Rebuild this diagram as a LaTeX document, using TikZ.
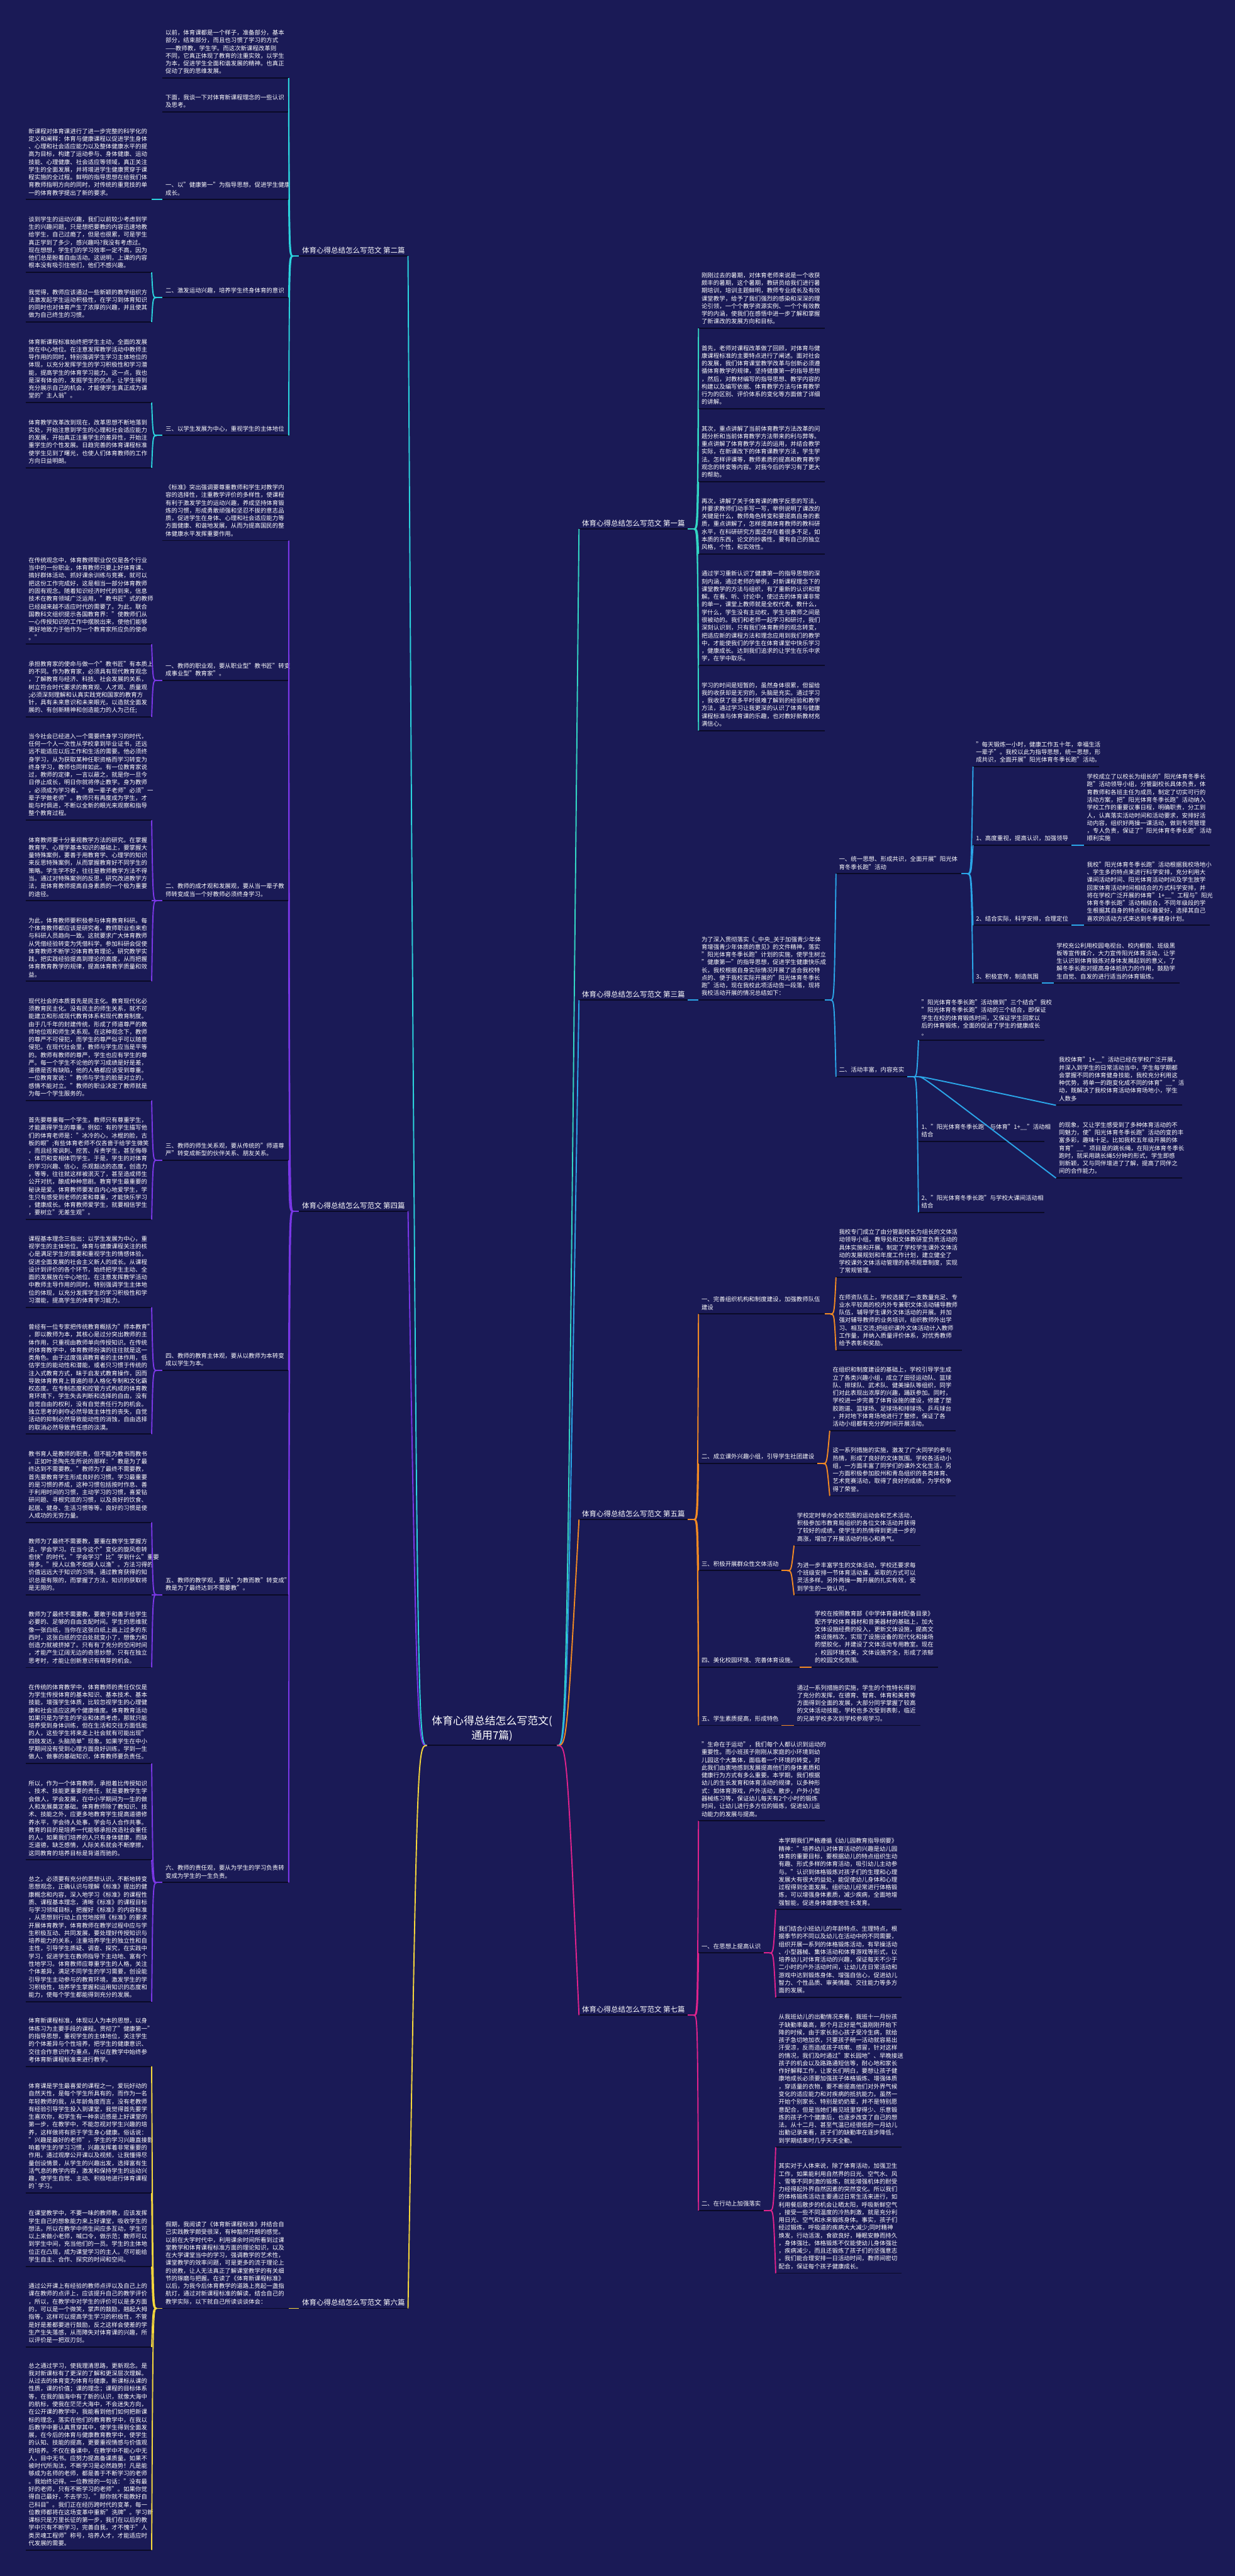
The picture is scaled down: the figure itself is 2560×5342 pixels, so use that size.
\documentclass[tikz,border=0pt]{standalone}
\usepackage{fontspec}
\setmainfont{Noto Sans CJK SC}
\usetikzlibrary{calc}
\definecolor{bg}{HTML}{1A1A56}
\definecolor{ul}{HTML}{0A0A26}
\definecolor{cA}{HTML}{33D6C4}
\definecolor{cB}{HTML}{2BD3DD}
\definecolor{cC}{HTML}{2BA6E8}
\definecolor{cD}{HTML}{7A37E6}
\definecolor{cE}{HTML}{F28A23}
\definecolor{cF}{HTML}{F4D63C}
\definecolor{cG}{HTML}{E0238C}
\tikzset{
 uline/.style={draw=ul,line width=2.5pt},
 blk/.style={anchor=south west,text width=#1,align=left,inner xsep=6pt,inner ysep=4.5pt,text=white,
   font=\fontsize{12.3pt}{16pt}\selectfont,execute at end node=\strut,
   append after command={(\tikzlastnode.south west) edge[uline] (\tikzlastnode.south east)}},
 blk/.default=249pt,
 hd/.style={anchor=south west,inner xsep=6pt,inner ysep=4.5pt,text=white,
   font=\fontsize{12.3pt}{16pt}\selectfont,execute at end node=\strut,
   append after command={(\tikzlastnode.south west) edge[uline] (\tikzlastnode.south east)}},
 lab/.style={inner xsep=6pt,inner ysep=5pt,text=white,font=\fontsize{15pt}{20pt}\selectfont,
   append after command={(\tikzlastnode.south west) edge[uline] (\tikzlastnode.south east)}},
 lk/.style={line width=2.5pt}
}
\newcommand\Rfan[3]{%
 \coordinate (#2b) at ($(#2.south east)+(12,0)$);
 \draw[lk,#1] (#2.south east) -- (#2b);
 \foreach \kid in {#3}{\draw[lk,#1] (#2b) .. controls +(8,0) .. (\kid.south west);}}
\newcommand\Lfan[3]{%
 \coordinate (#2b) at ($(#2.south west)+(-12,0)$);
 \draw[lk,#1] (#2.south west) -- (#2b);
 \foreach \kid in {#3}{\draw[lk,#1] (#2b) .. controls +(-8,0) .. (\kid.south east);}}
\begin{document}
\begin{tikzpicture}[x=1pt,y=-1pt]
\fill[bg] (0,0) rectangle (2560,5342);
\useasboundingbox (0,0) rectangle (2560,5342);

% ---------------- center ----------------
\node[font=\fontsize{22pt}{30pt}\selectfont,text=white,align=center,inner xsep=10pt,inner ysep=8pt,
  append after command={(\tikzlastnode.south west) edge[uline] (\tikzlastnode.south east)}] (ctr) at (1020,3585) {体育心得总结怎么写范文(\\通用7篇)};

% ---------------- level 1 labels ----------------
\node[lab,anchor=south west] (L2) at (620,531) {体育心得总结怎么写范文 第二篇};
\node[lab,anchor=south west] (L4) at (620,2512) {体育心得总结怎么写范文 第四篇};
\node[lab,anchor=south west] (L6) at (620,4787) {体育心得总结怎么写范文 第六篇};
\node[lab,anchor=south east] (L1) at (1426,1097) {体育心得总结怎么写范文 第一篇};
\node[lab,anchor=south east] (L3) at (1426,2074) {体育心得总结怎么写范文 第三篇};
\node[lab,anchor=south east] (L5) at (1426,3151) {体育心得总结怎么写范文 第五篇};
\node[lab,anchor=south east] (L7) at (1426,4179) {体育心得总结怎么写范文 第七篇};

\draw[lk,cB] (ctr.south west) .. controls +(-20,0) .. (L2.south east);
\draw[lk,cD] (ctr.south west) .. controls +(-20,0) .. (L4.south east);
\draw[lk,cF] (ctr.south west) .. controls +(-20,0) .. (L6.south east);
\draw[lk,cA] (ctr.south east) .. controls +(20,0) .. (L1.south west);
\draw[lk,cC] (ctr.south east) .. controls +(20,0) .. (L3.south west);
\draw[lk,cE] (ctr.south east) .. controls +(20,0) .. (L5.south west);
\draw[lk,cG] (ctr.south east) .. controls +(20,0) .. (L7.south west);

% ================= 第二篇 =================
\node[blk] (r2a) at (337,162) {以前，体育课都是一个样子，准备部分，基本\\部分，结束部分，而且也习惯了学习的方式\\——教师教，学生学。而这次新课程改革则\\不同，它真正体现了教育的注重实效，以学生\\为本，促进学生全面和谐发展的精神。也真正\\促动了我的思维发展。};
\node[blk] (r2b) at (337,232) {下面，我谈一下对体育新课程理念的一些认识\\及思考。};
\node[blk] (n21) at (337,414) {一、以"健康第一"为指导思想，促进学生健康\\成长。};
\node[blk] (n22) at (337,617) {二、激发运动兴趣，培养学生终身体育的意识};
\node[blk] (n23) at (337,903) {三、以学生发展为中心，重视学生的主体地位};
\node[blk] (l21) at (53,414) {新课程对体育课进行了进一步完整的科学化的\\定义和阐释：体育与健康课程以促进学生身体\\、心理和社会适应能力以及整体健康水平的提\\高为目标，构建了运动参与、身体健康、运动\\技能、心理健康、社会适应等领域，真正关注\\学生的全面发展，并将增进学生健康贯穿于课\\程实施的全过程。鲜明的指导思想在给我们体\\育教师指明方向的同时，对传统的重竞技的单\\一的体育教学提出了新的要求。};
\node[blk] (l22a) at (53,565) {谈到学生的运动兴趣，我们以前较少考虑到学\\生的兴趣问题，只是想把要教的内容迅速地教\\给学生，自己过瘾了，但是也很累，可是学生\\真正学到了多少，感兴趣吗?我没有考虑过。\\现在想想，学生们的学习效率一定不高，因为\\他们总是盼着自由活动。这说明，上课的内容\\根本没有吸引住他们，他们不感兴趣。};
\node[blk] (l22b) at (53,668) {我觉得，教师应该通过一些新颖的教学组织方\\法激发起学生运动积极性，在学习到体育知识\\的同时也对体育产生了浓厚的兴趣，并且使其\\做为自己终生的习惯。};
\node[blk] (l23a) at (53,835) {体育新课程标准始终把学生主动，全面的发展\\放在中心地位。在注意发挥教学活动中教师主\\导作用的同时，特别强调学生学习主体地位的\\体现，以充分发挥学生的学习积极性和学习潜\\能，提高学生的体育学习能力。这一点，我也\\是深有体会的，发掘学生的优点，让学生得到\\充分展示自己的机会，才能使学生真正成为课\\堂的"主人翁"。};
\node[blk] (l23b) at (53,970) {体育教学改革改到现在，改革思想不断地落到\\实处，开始注意到学生的心理和社会适应能力\\的发展，开始真正注重学生的差异性，开始注\\重学生的个性发展。日趋完善的体育课程标准\\使学生见到了曙光，也使人们体育教师的工作\\方向日益明朗。};
\Lfan{cB}{L2}{r2a,r2b,n21,n22,n23}
\Lfan{cB}{n21}{l21}
\Lfan{cB}{n22}{l22a,l22b}
\Lfan{cB}{n23}{l23a,l23b}

% ================= 第四篇 =================
\node[blk] (r4a) at (337,1121) {《标准》突出强调要尊重教师和学生对教学内\\容的选择性，注重教学评价的多样性，使课程\\有利于激发学生的运动兴趣，养成坚持体育锻\\炼的习惯，形成勇敢顽强和坚忍不拔的意志品\\质，促进学生在身体、心理和社会适应能力等\\方面健康、和谐地发展，从而为提高国民的整\\体健康水平发挥重要作用。};
\node[blk] (n41) at (337,1411) {一、教师的职业观，要从职业型"教书匠"转变\\成事业型"教育家"。};
\node[blk] (n42) at (337,1868) {二、教师的成才观和发展观，要从当一辈子教\\师转变成当一个好教师必须终身学习。};
\node[blk] (n43) at (337,2406) {三、教师的师生关系观，要从传统的"师道尊\\严"转变成新型的伙伴关系、朋友关系。};
\node[blk] (n44) at (337,2842) {四、教师的教育主体观，要从以教师为本转变\\成以学生为本。};
\node[blk] (n45) at (337,3307) {五、教师的教学观，要从"为教而教"转变成"\\教是为了最终达到不需要教"。};
\node[blk] (n46) at (337,3904) {六、教师的责任观，要从为学生的学习负责转\\变成为学生的一生负责。};
\node[blk] (l41a) at (53,1336) {在传统观念中，体育教师职业仅仅是各个行业\\当中的一份职业，体育教师只要上好体育课、\\搞好群体活动、抓好课余训练与竞赛，就可以\\把这份工作完成好，这是相当一部分体育教师\\的固有观念。随着知识经济时代的到来，信息\\技术在教育领域广泛运用，"教书匠"式的教师\\已经越来越不适应时代的需要了。为此，联合\\国教科文组织提示各国教育界："使教师们从\\一心传授知识的工作中摆脱出来，使他们能够\\更好地致力于他作为一个教育家所应负的使命\\。"};
\node[blk] (l41b) at (53,1487) {承担教育家的使命与做一个"教书匠"有本质上\\的不同。作为教育家，必须具有现代教育观念\\，了解教育与经济、科技、社会发展的关系，\\树立符合时代要求的教育观、人才观、质量观\\;必须深刻理解和认真实践党和国家的教育方\\针，具有未来意识和未来眼光，以造就全面发\\展的、有创新精神和创造能力的人为己任;};
\node[blk] (l42a) at (53,1701) {当今社会已经进入一个需要终身学习的时代，\\任何一个人一次性从学校拿到毕业证书，还远\\远不能适应以后工作和生活的需要。他必须终\\身学习，从为获取某种任职资格而学习转变为\\终身学习，教师也同样如此。有一位教育家说\\过，教师的定律，一言以蔽之，就是你一旦今\\日停止成长，明日你就将停止教学。身为教师\\，必须成为学习者。"做一辈子老师"必须"一\\辈子学做老师"。教师只有再度成为学生，才\\能与时俱进，不断以全新的眼光来观察和指导\\整个教育过程。};
\node[blk] (l42b) at (53,1868) {体育教师要十分重视教学方法的研究。在掌握\\教育学、心理学基本知识的基础上，要掌握大\\量特殊案例，要善于用教育学、心理学的知识\\来反思特殊案例，从而掌握教育好不同学生的\\策略。学生学不好，往往是教师教学方法不得\\当。通过对特殊案例的反思，研究改进教学方\\法，是体育教师提高自身素质的一个极为重要\\的途径。};
\node[blk] (l42c) at (53,2035) {为此，体育教师要积极参与体育教育科研。每\\个体育教师都应该是研究者。教师职业愈来愈\\与科研人员趋向一致。这就要求广大体育教师\\从凭借经验转变为凭借科学。参加科研会促使\\体育教师不断学习体育教育理论，研究教学实\\践，把实践经验提高到理论的高度，从而把握\\体育教育教学的规律，提高体育教学质量和效\\益。};
\node[blk] (l43a) at (53,2282) {现代社会的本质首先是民主化。教育现代化必\\须教育民主化。没有民主的师生关系，就不可\\能建立和形成现代教育体系和现代教育制度。\\由于几千年的封建传统，形成了师道尊严的教\\师地位观和师生关系观。在这种观念下，教师\\的尊严不可侵犯，而学生的尊严似乎可以随意\\侵犯。在现代社会里，教师与学生应当是平等\\的。教师有教师的尊严，学生也应有学生的尊\\严。每一个学生不论他的学习成绩是好是差，\\道德是否有缺陷，他的人格都应该受到尊重。\\一位教育家说："教师与学生的脸是对立的，\\感情不能对立。"教师的职业决定了教师就是\\为每一个学生服务的。};
\node[blk] (l43b) at (53,2529) {首先要尊重每一个学生，教师只有尊重学生，\\才能赢得学生的尊重。例如：有的学生描写他\\们的体育老师是："冰冷的心，冰棍的脸，古\\板的眼";有些体育老师不仅吝啬于给学生微笑\\，而且经常讽刺、挖苦、斥责学生，甚至侮辱\\、体罚和变相体罚学生。于是，学生的对体育\\的学习兴趣、信心，乐观豁达的态度，创造力\\，等等，往往就这样被泯灭了，甚至造成师生\\公开对抗，酿成种种悲剧。教育学生最重要的\\秘诀是爱。体育教师要发自内心地爱学生，学\\生只有感受到老师的爱和尊重，才能快乐学习\\，健康成长。体育教师爱学生，就要相信学生\\，要树立"无差生观"。};
\node[blk] (l44a) at (53,2711) {课程基本理念三指出：以学生发展为中心，重\\视学生的主体地位。体育与健康课程关注的核\\心是满足学生的需要和重视学生的情感体验，\\促进全面发展的社会主义新人的成长。从课程\\设计到评价的各个环节，始终把学生主动、全\\面的发展放在中心地位。在注意发挥教学活动\\中教师主导作用的同时，特别强调学生主体地\\位的体现，以充分发挥学生的学习积极性和学\\习潜能，提高学生的体育学习能力。};
\node[blk] (l44b) at (53,2974) {曾经有一位专家把传统教育概括为"师本教育"\\，即以教师为本，其核心是过分突出教师的主\\体作用，只重视由教师单向传授知识。在传统\\的体育教学中，体育教师扮演的往往就是这一\\类角色。由于过度强调教育者的主体作用，低\\估学生的能动性和潜能，或者只习惯于传统的\\注入式教育方式，昧于启发式教育操作，因而\\导致体育教育上普遍的非人格化专制和文化霸\\权态度。在专制态度和控管方式构成的体育教\\育环境下，学生失去判断和选择的自由，没有\\自觉自由的权利，没有自觉责任行为的机会。\\独立思考的剥夺必然导致主体性的丧失，自觉\\活动的抑制必然导致能动性的消蚀，自由选择\\的取消必然导致责任感的淡漠。};
\node[blk] (l45a) at (53,3157) {教书育人是教师的职责，但不能为教书而教书\\。正如叶圣陶先生所说的那样："教是为了最\\终达到不需要教。"教师为了最终不需要教，\\首先要教育学生形成良好的习惯。学习最重要\\的是习惯的养成，这种习惯包括按时作息、善\\于利用时间的习惯，主动学习的习惯，喜爱钻\\研问题、寻根究底的习惯，以及良好的饮食、\\起居、健身、生活习惯等等。良好的习惯是使\\人成功的无穷力量。};
\node[blk] (l45b) at (53,3307) {教师为了最终不需要教，要重在教学生掌握方\\法，学会学习。在当今这个"变化的旋风愈转\\愈快"的时代，"学会学习"比"学到什么"重要\\得多。"授人以鱼不如授人以渔"。方法习得的\\价值远远大于知识的习得。通过教育获得的知\\识总是有限的，而掌握了方法，知识的获取将\\是无限的。};
\node[blk] (l45c) at (53,3458) {教师为了最终不需要教，要敢于和善于给学生\\必要的、足够的自由支配时间。学生的思维就\\像一张白纸，当你在这张白纸上画上过多的东\\西时，这张白纸的空白处就变小了，想像力和\\创造力就被挤掉了。只有有了充分的空闲时间\\，才能产生辽阔无边的奇思妙想，只有在独立\\思考时，才能让创新意识有萌芽的机会。};
\node[blk] (l46a) at (53,3657) {在传统的体育教学中，体育教师的责任仅仅是\\为学生传授体育的基本知识、基本技术、基本\\技能，增强学生体质，比较忽视学生的心理健\\康和社会适应这两个健康维度。体育教育活动\\如果只是为学生的学业和体质考虑，那就只能\\培养受到身体训练，但在生活和交往方面低能\\的人，这些学生将来走上社会就有可能出现"\\四肢发达，头脑简单"现象。如果学生在中小\\学期间没有受到心理方面良好训练，学到一生\\做人、做事的基础知识，体育教师要负责任。};
\node[blk] (l46b) at (53,3857) {所以，作为一个体育教师，承担着比传授知识\\、技术、技能更重要的责任，就是要教学生学\\会做人，学会发展，在中小学期间为一生的做\\人和发展奠定基础。体育教师除了教知识、技\\术、技能之外，应更多地教育学生提高道德修\\养水平，学会待人处事，学会与人合作共事。\\教育的目的是培养一代能够承担改造社会重任\\的人。如果我们培养的人只有身体健康，而缺\\乏道德，缺乏感情，人际关系就会不断摩擦，\\这同教育的培养目标是背道而驰的。};
\node[blk] (l46c) at (53,4151) {总之，必须要有充分的思想认识，不断地转变\\思想观念，正确认识与理解《标准》提出的健\\康概念和内容，深入地学习《标准》的课程性\\质、课程基本理念，清晰《标准》的课程目标\\与学习领域目标，把握好《标准》的内容标准\\，从思想到行动上自觉地按照《标准》的要求\\开展体育教学，体育教师在教学过程中应与学\\生积极互动、共同发展，要处理好传授知识与\\培养能力的关系，注重培养学生的独立性和自\\主性，引导学生质疑、调查、探究，在实践中\\学习，促进学生在教师指导下主动地、富有个\\性地学习。体育教师应尊重学生的人格，关注\\个体差异，满足不同学生的学习需要，创设能\\引导学生主动参与的教育环境，激发学生的学\\习积极性，培养学生掌握和运用知识的态度和\\能力，使每个学生都能得到充分的发展。};
\Lfan{cD}{L4}{r4a,n41,n42,n43,n44,n45,n46}
\Lfan{cD}{n41}{l41a,l41b}
\Lfan{cD}{n42}{l42a,l42b,l42c}
\Lfan{cD}{n43}{l43a,l43b}
\Lfan{cD}{n44}{l44a,l44b}
\Lfan{cD}{n45}{l45a,l45b,l45c}
\Lfan{cD}{n46}{l46a,l46b,l46c}

% ================= 第六篇 =================
\node[blk] (n61) at (337,4787) {假期，我阅读了《体育新课程标准》并结合自\\己实践教学颇受很深，有种豁然开朗的感觉。\\以前在大学时代中，利用课余时间所看到过课\\堂教学和体育课程标准方面的理论知识，以及\\在大学课堂当中的学习，强调教学的艺术性，\\课堂教学的效率问题，可是更多的流于理论上\\的说教，让人无法真正了解课堂教学的有关细\\节的琢磨与把握。在读了《体育新课程标准》\\以后，为我今后体育教学的道路上亮起一盏指\\航灯，通过对新课程标准的解读，结合自己的\\教学实际，以下就自己所读谈谈体会：};
\node[blk] (l61a) at (53,4285) {体育新课程标准，体现以人为本的思想，以身\\体练习为主要手段的课程。贯彻了"健康第一"\\的指导思想，重视学生的主体地位，关注学生\\的个体差异与个性培养，把学生的健康意识、\\交往合作意识作为重点，所以在教学中始终参\\考体育新课程标准来进行教学。};
\node[blk] (l61b) at (53,4548) {体育课是学生最喜爱的课程之一，爱玩好动的\\自然天性，是每个学生所具有的，而作为一名\\年轻教师的我，从年龄角度而言，没有老教师\\有经验引导学生投入到课堂，我觉得首先要学\\生喜欢你，和学生有一种亲近感是上好课堂的\\第一步，在教学中，不能忽视对学生兴趣的培\\养，这样做将有损于学生身心健康。俗话说：\\"兴趣是最好的老师"，学生的学习兴趣直接影\\响着学生的学习习惯，兴趣发挥着非常重要的\\作用。通过观摩公开课以及视频，让我懂得尽\\量创设情景，从学生的兴趣出发，选择富有生\\活气息的教学内容，激发和保持学生的运动兴\\趣，使学生自觉、主动、积极地进行体育课程\\的\textasciigrave 学习。};
\node[blk] (l61c) at (53,4700) {在课堂教学中，不要一味的教师教，应该发挥\\学生自己的想象能力来上好课堂，吸收学生的\\想法。所以在教学中师生间应多互动，学生可\\以上来做小老师，喊口令，做示范；教师可以\\到学生中间，充当他们的一员。学生的主体地\\位正在凸现，成为课堂学习的主人。尽可能给\\学生自主、合作、探究的时间和空间。};
\node[blk] (l61d) at (53,4867) {通过公开课上有经验的教师点评以及自己上的\\课在教师的点评上，应该提升自己的教学评价\\，所以，在教学中对学生的评价可以是多方面\\的，可以是一个微笑，掌声的鼓励，翘起大拇\\指等，这样可以提高学生学习的积极性，不管\\是好是差都要进行鼓励，反之这样会使差的学\\生产生失落感，从而障失对体育课的兴趣，所\\以评价是一把双刃剑。};
\node[blk] (l61e) at (53,5288) {总之通过学习，使我理清思路，更新观念。是\\我对新课标有了更深的了解和更深层次理解。\\从过去的体育变为体育与健康，新课标从课的\\性质，课的价值；课的理念；课程的目标体系\\等，在我的脑海中有了新的认识，就像大海中\\的航标，使我在茫茫大海中，不会迷失方向，\\在公开课的教学中，我能看到他们如何把新课\\标的理念，落实在他们的教育教学中，在我以\\后教学中要认真贯穿其中，使学生得到全面发\\展，在今后的体育与健康教育教学中，使学生\\的认知、技能的提高，更要重视情感与价值观\\的培养。不仅在备课中，在教学中不能心中无\\人，目中无书。应努力提高备课质量。如果不\\被时代所淘汰，不断学习是必然趋势！凡是能\\够成为名师的老师，都是善于不断学习的老师\\。我始终记得。一位教授的一句话："没有最\\好的老师，只有不断学习的老师"。如果你觉\\得自己最好，不去学习，"那你就不能教好自\\己科目"。我们正在经历跨时代的变革，每一\\位教师都将在这场变革中重新"洗牌"。学习新\\课标只是万里长征的第一步，我们在以后的教\\学中只有不断学习，完善自我，才不愧于"人\\类灵魂工程师"称号，培养人才，才能适应时\\代发展的需要。};
\draw[lk,cF] (L6.south west) -- (n61.south east);
\Lfan{cF}{n61}{l61a,l61b,l61c,l61d,l61e}

% ================= 第一篇 =================
\node[blk] (r1a) at (1448,681) {刚刚过去的暑期，对体育老师来说是一个收获\\颇丰的暑期，这个暑期，教研员给我们进行暑\\期培训，培训主题鲜明，教师专业成长及有效\\课堂教学，给予了我们强烈的感染和深深的理\\论引领，一个个教学资源实例、一个个有效教\\学的内涵，使我们在感悟中进一步了解和掌握\\了新课改的发展方向和目标。};
\node[blk] (r1b) at (1448,848) {首先，老师对课程改革做了回顾，对体育与健\\康课程标准的主要特点进行了阐述。面对社会\\的发展，我们体育课堂教学改革与创新必须遵\\循体育教学的规律，坚持健康第一的指导思想\\，然后，对教材编写的指导思想、教学内容的\\构建以及编写依据、体育教学方法与体育教学\\行为的区别、评价体系的变化等方面做了详细\\的讲解。};
\node[blk] (r1c) at (1448,999) {其次，重点讲解了当前体育教学方法改革的问\\题分析和当前体育教学方法带来的利与弊等。\\重点讲解了体育教学方法的运用，并结合教学\\实际，在新课改下的体育课教学方法，学生学\\法。怎样评课等，教师素质的提高和教育教学\\观念的转变等内容。对我今后的学习有了更大\\的帮助。};
\node[blk] (r1d) at (1448,1149) {再次，讲解了关于体育课的教学反思的写法，\\并要求教师们动手写一写，举例说明了课改的\\关键是什么，教师角色转变和要提高自身的素\\质，重点讲解了，怎样提高体育教师的教科研\\水平，在科研研究方面还存在着很多不足，如\\本质的东西，论文的抄袭性，要有自己的独立\\风格，个性，和实效性。};
\node[blk] (r1e) at (1448,1380) {通过学习重新认识了健康第一的指导思想的深\\刻内涵，通过老师的举例，对新课程理念下的\\课堂教学的方法与组织，有了重新的认识和理\\解。在看、听、讨论中，使过去的体育课非常\\的单一，课堂上教师就是全权代表，教什么，\\学什么，学生没有主动权，学生与教师之间是\\很被动的。我们和老师一起学习和研讨，我们\\深刻认识到，只有我们体育教师的观念转变，\\把适应新的课程方法和理念应用到我们的教学\\中，才能使我们的学生在体育课堂中快乐学习\\，健康成长。达到我们追求的让学生在乐中求\\学，在学中取乐。};
\node[blk] (r1f) at (1448,1515) {学习的时间是短暂的，虽然身体很累，但留给\\我的收获却是无穷的，头脑是充实。通过学习\\，我收获了很多平时很难了解到的经验和教学\\方法，通过学习让我更深的认识了体育与健康\\课程标准与体育课的乐趣，也对教好新教材充\\满信心。};
\Rfan{cA}{L1}{r1a,r1b,r1c,r1d,r1e,r1f}

% ================= 第三篇 =================
\node[blk] (r3) at (1448,2074) {为了深入贯彻落实《\_中央\_关于加强青少年体\\育增强青少年体质的意见》的文件精神，落实\\"阳光体育冬季长跑"计划的实施，使学生树立\\"健康第一"的指导思想，促进学生健康快乐成\\长，我校根据自身实际情况开展了适合我校特\\点的、便于我校实际开展的"阳光体育冬季长\\跑"活动，现在我校此项活动告一段落，现将\\我校活动开展的情况总结如下：};
\node[blk=248pt] (n31) at (1733,1812) {一、统一思想、形成共识，全面开展"阳光体\\育冬季长跑"活动};
\node[blk] (n310) at (2017,1590) {"每天锻炼一小时，健康工作五十年，幸福生活\\一辈子"。我校以此为指导思想，统一思想，形\\成共识，全面开展"阳光体育冬季长跑"活动。};
\node[hd] (n311) at (2017,1753) {1、高度重视，提高认识，加强领导};
\node[hd] (n312) at (2017,1919) {2、结合实际，科学安排，合理定位};
\node[hd] (n313) at (2017,2039) {3、积极宣传，制造氛围};
\node[blk] (t311) at (2247,1753) {学校成立了以校长为组长的"阳光体育冬季长\\跑"活动领导小组，分管副校长具体负责，体\\育教师和各班主任为成员，制定了切实可行的\\活动方案，把"阳光体育冬季长跑"活动纳入\\学校工作的重要议事日程，明确职责，分工到\\人，认真落实活动时间和活动要求，安排好活\\动内容，组织好两操一课活动，做到专项管理\\，专人负责，保证了"阳光体育冬季长跑"活动\\顺利实施};
\node[blk] (t312) at (2247,1919) {我校"阳光体育冬季长跑"活动根据我校场地小\\、学生多的特点来进行科学安排，充分利用大\\课间活动时间、阳光体育活动时间及学生放学\\回家体育活动时间相结合的方式科学安排，并\\将在学校广泛开展的体育"1+\_\_"工程与"阳光\\体育冬季长跑"活动相结合，不同年级段的学\\生根据其自身的特点和兴趣爱好，选择其自己\\喜欢的活动方式来达到冬季健身计划。};
\node[blk] (t313) at (2184,2039) {学校充公利用校园电视台、校内橱窗、班级黑\\板等宣传媒介，大力宣传阳光体育活动，让学\\生认识到体育锻炼对身体发展起到的意义，了\\解冬季长跑对提高身体抵抗力的作用，鼓励学\\生自觉、自发的进行适当的体育锻炼。};
\node[hd] (n32) at (1733,2233) {二、活动丰富，内容充实};
\node[blk] (n32a) at (1904,2157) {"阳光体育冬季长跑"活动做到"三个结合"我校\\"阳光体育冬季长跑"活动的三个结合，即保证\\学生在校的体育锻炼时间，又保证学生回家以\\后的体育锻炼，全面的促进了学生的健康成长\\。};
\node[blk] (n32b) at (1904,2367) {1、"阳光体育冬季长跑"与体育"1+\_\_"活动相\\结合};
\node[blk] (n32c) at (1904,2514) {2、"阳光体育冬季长跑"与学校大课间活动相\\结合};
\node[blk] (t32b1) at (2189,2292) {我校体育"1+\_\_"活动已经在学校广泛开展，\\并深入到学生的日常活动当中，学生每学期都\\会掌握不同的体育健身技能，我校充分利用这\\种优势，将单一的跑变化成不同的体育"\_\_"活\\动，既解决了我校体育活动体育场地小，学生\\人数多};
\node[blk] (t32b2) at (2189,2443) {的现象，又让学生感受到了多种体育活动的不\\同魅力，使"阳光体育冬季长跑"活动的变的丰\\富多彩，趣味十足。比如我校五年级开展的体\\育育"\_\_"项目是的跳长绳，在阳光体育冬季长\\跑时，就采用跳长绳5分钟的形式，学生即感\\到新颖，又与同伴增进了了解，提高了同伴之\\间的合作能力。};
\Rfan{cC}{L3}{r3}
\Rfan{cC}{r3}{n31,n32}
\Rfan{cC}{n31}{n310,n311,n312,n313}
\Rfan{cC}{n311}{t311}
\Rfan{cC}{n312}{t312}
\Rfan{cC}{n313}{t313}
\Rfan{cC}{n32}{n32a,n32b,n32c}
\Rfan{cC}{n32b}{t32b1,t32b2}

% ================= 第五篇 =================
\node[blk] (n51) at (1448,2725) {一、完善组织机构和制度建设，加强教师队伍\\建设};
\node[hd] (n52) at (1448,3035) {二、成立课外兴趣小组，引导学生社团建设};
\node[hd] (n53) at (1448,3257) {三、积极开展群众性文体活动};
\node[hd] (n54) at (1448,3457) {四、美化校园环境、完善体育设施。};
\node[hd] (n55) at (1448,3578) {五、学生素质提高，形成特色};
\node[blk] (t51a) at (1733,2649) {我校专门成立了由分管副校长为组长的文体活\\动领导小组，教导处和文体教研室负责活动的\\具体实施和开展。制定了学校学生课外文体活\\动的发展规划和年度工作计划，建立健全了\\学校课外文体活动管理的各项规章制度，实现\\了常规管理。};
\node[blk] (t51b) at (1733,2800) {在师资队伍上，学校选拔了一支数量充足、专\\业水平较高的校内外专兼职文体活动辅导教师\\队伍，辅导学生课外文体活动的开展。并加\\强对辅导教师的业务培训，组织教师外出学\\习、相互交流;把组织课外文体活动计入教师\\工作量，并纳入质量评价体系，对优秀教师\\给予表彰和奖励。};
\node[blk] (t52a) at (1720,2967) {在组织和制度建设的基础上，学校引导学生成\\立了各类兴趣小组，成立了田径运动队、篮球\\队、排球队、武术队、健美操队等组织，同学\\们对此表现出浓厚的兴趣，踊跃参加。同时，\\学校进一步完善了体育设施的建设，修建了塑\\胶跑道、篮球场、足球场和排球场、乒乓球台\\，并对地下体育场地进行了整修，保证了各\\活动小组都有充分的时间开展活动。};
\node[blk] (t52b) at (1720,3102) {这一系列措施的实施，激发了广大同学的参与\\热情，形成了良好的文体氛围。学校各活动小\\组，一方面丰富了同学们的课外文化生活，另\\一方面积极参加胶州和青岛组织的各类体育、\\艺术竞赛活动，取得了良好的成绩，为学校争\\得了荣誉。};
\node[blk] (t53a) at (1646,3205) {学校定时举办全校范围的运动会和艺术活动，\\积极参加市教育局组织的各位文体活动并获得\\了较好的成绩，使学生的热情得到更进一步的\\高涨，增加了开展活动的信心和勇气。};
\node[blk] (t53b) at (1646,3308) {为进一步丰富学生的文体活动，学校还要求每\\个班级安排一节体育活动课，采取的方式可以\\灵活多样。另外两操一舞开展的扎实有效，受\\到学生的一致认可。};
\node[blk] (t54) at (1683,3457) {学校在按照教育部《中学体育器材配备目录》\\配齐学校体育器材和音美器材的基础上，加大\\文体设施经费的投入，更新文体设施，提高文\\体设施档次，实现了设施设备的现代化和操场\\的塑胶化，并建设了文体活动专用教室。现在\\，校园环境优美，文体设施齐全，形成了浓郁\\的校园文化氛围。};
\node[blk] (t55) at (1646,3578) {通过一系列措施的实施，学生的个性特长得到\\了充分的发挥，在德育、智育、体育和美育等\\方面得到全面的发展，大部分同学掌握了较高\\的文体活动技能，学校也多次受到表彰，临近\\的兄弟学校多次到学校参观学习。};
\Rfan{cE}{L5}{n51,n52,n53,n54,n55}
\Rfan{cE}{n51}{t51a,t51b}
\Rfan{cE}{n52}{t52a,t52b}
\Rfan{cE}{n53}{t53a,t53b}
\Rfan{cE}{n54}{t54}
\Rfan{cE}{n55}{t55}

% ================= 第七篇 =================
\node[blk] (r7a) at (1448,3776) {"生命在于运动"，我们每个人都认识到运动的\\重要性。而小班孩子刚刚从家庭的小环境到幼\\儿园这个大集体，面临着一个环境的转变，对\\此我们由衷地感到发展提高他们的身体素质和\\健康行为方式有多么重要。本学期，我们根据\\幼儿的生长发育和体育活动的规律，以多种形\\式：如体育游戏，户外活动，散步，户外小型\\器械练习等，保证幼儿每天有2个小时的锻炼\\时间，让幼儿进行多方位的锻炼，促进幼儿运\\动能力的发展与提高。};
\node[hd] (n71) at (1448,4050) {一、在思想上提高认识};
\node[hd] (n72) at (1448,4584) {二、在行动上加强落实};
\node[blk] (t71a) at (1608,3960) {本学期我们严格遵循《幼儿园教育指导纲要》\\精神："培养幼儿对体育活动的兴趣是幼儿园\\体育的重要目标，要根据幼儿的特点组织生动\\有趣、形式多样的体育活动，吸引幼儿主动参\\与。"认识到体格锻炼对孩子们的生理和心理\\发展大有很大的益处，能促使幼儿身体和心理\\过程得到全面发展。组织幼儿经常进行体格锻\\炼，可以增强身体素质，减少疾病，全面地增\\强智能，促进身体健康地生长发育。};
\node[blk] (t71b) at (1608,4142) {我们结合小班幼儿的年龄特点、生理特点，根\\据季节的不同以及幼儿在活动中的不同需要，\\组织开展一系列的体格锻炼活动，有早操活动\\、小型器械、集体活动和体育游戏等形式，以\\培养幼儿对体育活动的兴趣，保证每天不少于\\二小时的户外活动时间，让幼儿在日常活动和\\游戏中达到锻炼身体、增强自信心，促进幼儿\\智力、个性品质、审美情趣、交往能力等多方\\面的发展。};
\node[blk] (t72a) at (1608,4453) {从我班幼儿的出勤情况来看，我班十一月份孩\\子缺勤率最高，那个月正好是气温刚刚开始下\\降的时候，由于家长担心孩子受冷生病，就给\\孩子急切地加衣，只要孩子稍一活动就容易出\\汗受凉，反而造成孩子咳嗽、感冒，针对这样\\的情况，我们及时通过"家长园地"、早晚接送\\孩子的机会以及路路通短信等，耐心地和家长\\作好解释工作，让家长们明白，要想让孩子健\\康地成长必须要加强孩子体格锻炼、增强体质\\，穿适量的衣物，要不断提高他们对外界气候\\变化的适应能力和对疾病的抵抗能力。虽然一\\开始个别家长、特别是奶奶辈，并不是特别愿\\意配合，但是当她们看见班里穿得少、乐意锻\\炼的孩子个个健康后，也逐步改变了自己的想\\法。从十二月、甚至气温已经很低的一月幼儿\\出勤记录来看，孩子们的缺勤率在逐步降低，\\到学期结束时几乎天天全勤。};
\node[blk] (t72b) at (1608,4714) {其实对于人体来说，除了体育活动，加强卫生\\工作，如果能利用自然界的日光、空气水、风\\、雪等不同刺激的锻炼，就能增强机体的耐受\\力经得起外界自然因素的突然变化。所以我们\\的体格锻炼活动主要通过日常生活来进行，如\\利用餐后散步的机会让晒太阳，呼吸新鲜空气\\，接受一些不同温度的冷热刺激，就是充分利\\用日光、空气和水来锻炼身体。事实，孩子们\\经过锻炼，呼吸道的疾病大大减少;同时精神\\焕发，行动活泼，食欲良好，睡眠安静而持久\\，身体强壮。体格锻炼不仅能使幼儿身体强壮\\，疾病减少，而且还锻炼了孩子们的坚强意志\\。我们能合理安排一日活动时间，教师间密切\\配合，保证每个孩子健康成长。};
\Rfan{cG}{L7}{r7a,n71,n72}
\Rfan{cG}{n71}{t71a,t71b}
\Rfan{cG}{n72}{t72a,t72b}
\end{tikzpicture}
\end{document}
